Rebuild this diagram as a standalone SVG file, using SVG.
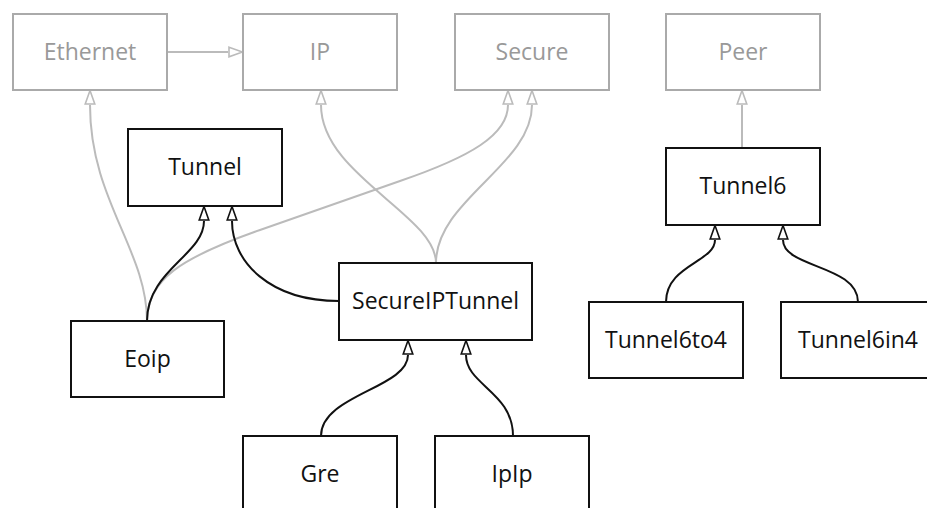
<svg xmlns="http://www.w3.org/2000/svg" width="927" height="508" viewBox="0 0 927 508">
<defs>
<style>
.box{fill:#fff;stroke:#111;stroke-width:2}
.gbox{fill:#fff;stroke:#aaa;stroke-width:2}
.t{font-family:"Open Sans","Noto Sans",sans-serif;font-size:23px;text-anchor:middle;fill:#111}
.gt{fill:#999}
.e{fill:none;stroke:#111;stroke-width:2}
.ge{fill:none;stroke:#bbb;stroke-width:2}
</style>
<marker id="ab" markerUnits="userSpaceOnUse" markerWidth="16" markerHeight="12" refX="0" refY="6" orient="auto" viewBox="0 0 16 12">
<path d="M1,1.2 L14.5,6 L1,10.8 Z" fill="#fff" stroke="#111" stroke-width="1.6"/>
</marker>
<marker id="ag" markerUnits="userSpaceOnUse" markerWidth="16" markerHeight="12" refX="0" refY="6" orient="auto" viewBox="0 0 16 12">
<path d="M1,1.2 L14.5,6 L1,10.8 Z" fill="#fff" stroke="#bbb" stroke-width="1.6"/>
</marker>
</defs>
<rect width="927" height="508" fill="#fff"/>
<g id="connectors">
<path class="ge" d="M167,52 L228,52" marker-end="url(#ag)"/>
<path class="ge" d="M147,321 C147,250 90,200 90,105" marker-end="url(#ag)"/>
<path class="ge" d="M147,321 C147,280 180,258 260,230 L400,181 C470,157 508,135 508,105" marker-end="url(#ag)"/>
<path class="ge" d="M436,263 C436,215 321,175 321,105" marker-end="url(#ag)"/>
<path class="ge" d="M436,263 C436,200 532,165 532,105" marker-end="url(#ag)"/>
<path class="ge" d="M742,148 L742,105" marker-end="url(#ag)"/>
<path class="e" d="M147,321 C147,270 204,255 204,221" marker-end="url(#ab)"/>
<path class="e" d="M339,301 C270,301 232,262 232,221" marker-end="url(#ab)"/>
<path class="e" d="M321,436 C321,395 408,388 408,355" marker-end="url(#ab)"/>
<path class="e" d="M513,436 C513,392 466,385 466,355" marker-end="url(#ab)"/>
<path class="e" d="M666,302 C666,265 715,262 715,240" marker-end="url(#ab)"/>
<path class="e" d="M858,302 C858,265 783,268 783,240" marker-end="url(#ab)"/>
</g>
<g id="Ethernet"><rect class="gbox" x="13" y="14" width="154" height="76"/><text class="t gt" x="90" y="60">Ethernet</text></g>
<g id="IP"><rect class="gbox" x="243" y="14" width="154" height="76"/><text class="t gt" x="320" y="60">IP</text></g>
<g id="Secure"><rect class="gbox" x="455" y="14" width="154" height="76"/><text class="t gt" x="532" y="60">Secure</text></g>
<g id="Peer"><rect class="gbox" x="666" y="14" width="154" height="76"/><text class="t gt" x="743" y="60">Peer</text></g>
<g id="Tunnel"><rect class="box" x="128" y="129" width="154" height="77"/><text class="t" x="205" y="175">Tunnel</text></g>
<g id="Tunnel6"><rect class="box" x="666" y="148" width="154" height="77"/><text class="t" x="743" y="194">Tunnel6</text></g>
<g id="SecureIPTunnel"><rect class="box" x="339" y="263" width="193" height="77"/><text class="t" x="435.5" y="309">SecureIPTunnel</text></g>
<g id="Eoip"><rect class="box" x="71" y="321" width="153" height="76"/><text class="t" x="147.5" y="367">Eoip</text></g>
<g id="Tunnel6to4"><rect class="box" x="589" y="302" width="154" height="76"/><text class="t" x="666" y="348">Tunnel6to4</text></g>
<g id="Tunnel6in4"><rect class="box" x="781" y="302" width="154" height="76"/><text class="t" x="858" y="348">Tunnel6in4</text></g>
<g id="Gre"><rect class="box" x="243" y="436" width="154" height="76"/><text class="t" x="320" y="482">Gre</text></g>
<g id="IpIp"><rect class="box" x="435" y="436" width="154" height="76"/><text class="t" x="512" y="482">IpIp</text></g>
</svg>
